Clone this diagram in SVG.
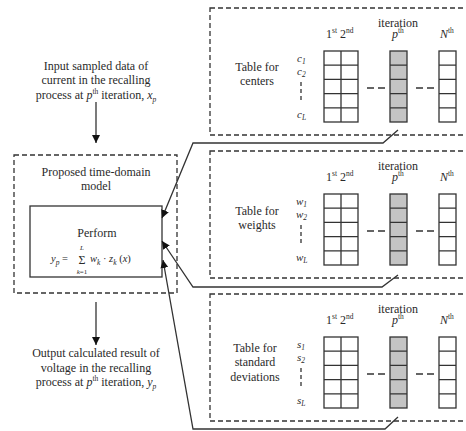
<svg xmlns="http://www.w3.org/2000/svg" xmlns:xlink="http://www.w3.org/1999/xlink" width="466" height="431" viewBox="0 0 466 431">
<style>
  text { font-family: "Liberation Serif", "Times New Roman", serif; font-size: 12px; fill: #2a2a2a; }
  .c { text-anchor: middle; }
  .it { font-style: italic; }
  .sup { font-size: 7.5px; }
  .sub { font-size: 7.5px; font-style: italic; }
  .lbl { font-size: 11px; font-style: italic; }
  .f11 { font-size: 10.5px; }
  .f7 { font-size: 7px; }
  .f13 { font-size: 12px; }
  .dash { fill: none; stroke: #333; stroke-width: 1.3; stroke-dasharray: 5 3; }
  .solid { fill: none; stroke: #333; stroke-width: 1.3; }
  .grid { fill: #fff; stroke: #333; stroke-width: 1.3; }
  .gridp { fill: #c4c4c4; stroke: #333; stroke-width: 1.3; }
  .conn { fill: none; stroke: #333; stroke-width: 1.3; }
</style>
<defs>
  <marker id="ah" viewBox="0 0 10 10" refX="10" refY="5" markerWidth="8" markerHeight="8" markerUnits="userSpaceOnUse" orient="auto">
    <path d="M0,0 L10,5 L0,10 z" fill="#111"/>
  </marker>
  <g id="frame">
    <rect class="dash" x="0" y="0" width="275" height="127"/>
    <text class="c" x="188" y="19">iteration</text>
    <text x="116" y="30">1<tspan class="sup" dy="-5">st</tspan><tspan dy="5"> 2</tspan><tspan class="sup" dy="-5">nd</tspan></text>
    <text class="it" x="182" y="30">p<tspan class="sup" dy="-5" style="font-style:normal">th</tspan></text>
    <text class="it" x="230" y="30">N<tspan class="sup" dy="-5" style="font-style:normal">th</tspan></text>
    <rect class="grid" x="114" y="43" width="34" height="71"/>
    <path class="solid" d="M131,43 V114 M114,57.2 H148 M114,71.4 H148 M114,85.6 H148 M114,99.8 H148"/>
    <rect class="gridp" x="180" y="43" width="17" height="71"/>
    <path class="solid" d="M180,57.2 H197 M180,71.4 H197 M180,85.6 H197 M180,99.8 H197"/>
    <rect class="grid" x="229" y="43" width="17" height="71"/>
    <path class="solid" d="M229,57.2 H246 M229,71.4 H246 M229,85.6 H246 M229,99.8 H246"/>
    <path class="solid" stroke-dasharray="7 4" d="M157,80 H175 M206,80 H224"/>
    <path class="solid" stroke-width="1.6" stroke-dasharray="4 3" d="M91,74 V95"/>
  </g>
</defs>

<g id="input-text">
  <text class="c" x="96" y="70">Input sampled data of</text>
  <text class="c" x="96" y="84">current in the recalling</text>
  <text class="c" x="96" y="99">process at <tspan class="it">p</tspan><tspan class="sup" dy="-5">th</tspan><tspan dy="5"> iteration, </tspan><tspan class="it">x</tspan><tspan class="sub" dy="3">p</tspan></text>
</g>

<g id="model">
  <rect class="dash" x="14" y="155" width="163" height="138"/>
  <text class="c" x="96" y="176">Proposed time-domain</text>
  <text class="c" x="96" y="190">model</text>
</g>

<g id="perform">
  <rect class="solid" x="30" y="206" width="132" height="71" fill="#fff"/>
  <text class="c" x="97" y="237">Perform</text>
  <text class="it f11" x="51" y="262">y<tspan class="sub" dy="3">p</tspan><tspan dy="-3" style="font-style:normal"> = </tspan></text>
  <text class="c f13" x="82" y="264">Σ</text>
  <text class="c it f7" x="82" y="250">L</text>
  <text class="c it f7" x="82" y="274">k<tspan style="font-style:normal">=1</tspan></text>
  <text class="it f11" x="90" y="262">w<tspan class="sub" dy="3">k</tspan><tspan dy="-3" style="font-style:normal"> · </tspan>z<tspan class="sub" dy="3">k</tspan><tspan dy="-3" style="font-style:normal"> (</tspan>x<tspan style="font-style:normal">)</tspan></text>
</g>

<g id="output-text">
  <text class="c" x="96" y="357">Output calculated result of</text>
  <text class="c" x="96" y="372">voltage in the recalling</text>
  <text class="c" x="96" y="386">process at <tspan class="it">p</tspan><tspan class="sup" dy="-5">th</tspan><tspan dy="5"> iteration, </tspan><tspan class="it">y</tspan><tspan class="sub" dy="3">p</tspan></text>
</g>

<g id="table-centers" transform="translate(210,8)">
  <use xlink:href="#frame"/>
  <text class="c" x="47" y="63">Table for</text>
  <text class="c" x="47" y="77">centers</text>
  <text class="lbl" x="87" y="54">c<tspan class="sub" dy="2">1</tspan></text>
  <text class="lbl" x="87" y="67">c<tspan class="sub" dy="2">2</tspan></text>
  <text class="lbl" x="87" y="110">c<tspan class="sub" dy="2">L</tspan></text>
</g>

<g id="table-weights" transform="translate(210,151)">
  <use xlink:href="#frame"/>
  <text class="c" x="47" y="64">Table for</text>
  <text class="c" x="47" y="78">weights</text>
  <text class="lbl" x="86" y="54">w<tspan class="sub" dy="2">1</tspan></text>
  <text class="lbl" x="86" y="67">w<tspan class="sub" dy="2">2</tspan></text>
  <text class="lbl" x="86" y="110">w<tspan class="sub" dy="2">L</tspan></text>
</g>

<g id="table-stddev" transform="translate(210,294)">
  <use xlink:href="#frame"/>
  <text class="c" x="45" y="58">Table for</text>
  <text class="c" x="45" y="72">standard</text>
  <text class="c" x="45" y="87">deviations</text>
  <text class="lbl" x="87" y="54">s<tspan class="sub" dy="2">1</tspan></text>
  <text class="lbl" x="87" y="67">s<tspan class="sub" dy="2">2</tspan></text>
  <text class="lbl" x="87" y="110">s<tspan class="sub" dy="2">L</tspan></text>
</g>

<g id="connectors">
  <line class="conn" x1="96" y1="102" x2="96" y2="143" marker-end="url(#ah)"/>
  <line class="conn" x1="96" y1="302" x2="96" y2="345" marker-end="url(#ah)"/>
  <path class="conn" d="M398,130 L383,143 L193,143 L162,218" marker-end="url(#ah)"/>
  <path class="conn" d="M398,275 L382,287 L193,287 L162,241" marker-end="url(#ah)"/>
  <path class="conn" d="M398,417 L385,429 L193,429 L163,260" marker-end="url(#ah)"/>
</g>
</svg>
